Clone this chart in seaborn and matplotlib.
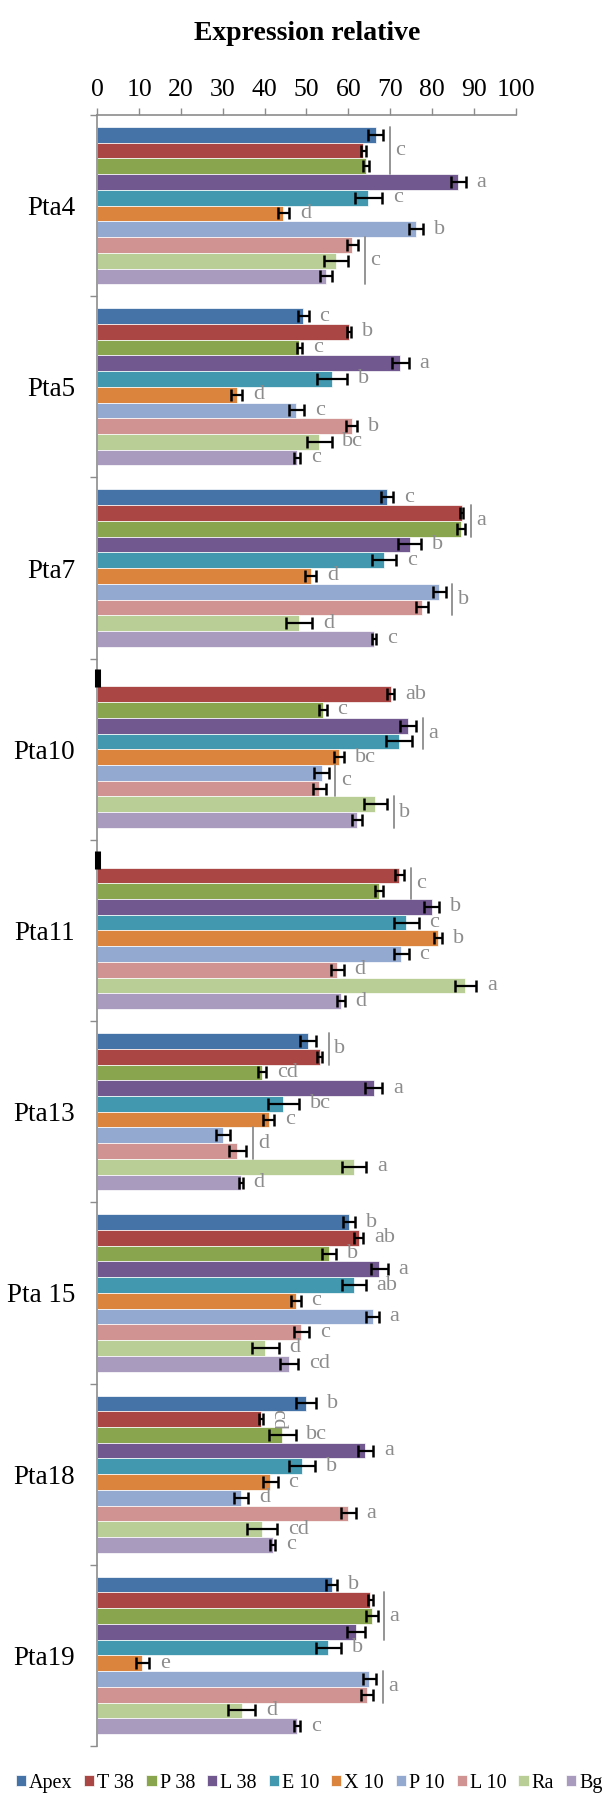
import numpy as np
import pandas as pd
import seaborn as sns
import matplotlib.pyplot as plt
from matplotlib.ticker import FixedLocator, MultipleLocator

# ---------------------------------------------------------
# data
# ---------------------------------------------------------
genes = ['Pta4', 'Pta5', 'Pta7', 'Pta10', 'Pta11', 'Pta13', 'Pta 15', 'Pta18', 'Pta19']
series = ['Apex', 'T 38', 'P 38', 'L 38', 'E 10', 'X 10', 'P 10', 'L 10', 'Ra', 'Bg']

# mean relative expression, one list per gene, series in the order above
pta4 = [66.6, 63.6, 64.2, 86.3, 64.8, 44.5, 76.2, 61.0, 57.1, 54.6]
pta5 = [49.2, 60.2, 48.3, 72.4, 56.2, 33.3, 47.6, 60.8, 53.1, 47.8]
pta7 = [69.3, 87.1, 86.9, 74.7, 68.5, 51.0, 81.8, 77.7, 48.3, 66.2]
pta10 = [0.0, 70.1, 53.9, 74.3, 72.1, 57.8, 53.6, 53.1, 66.5, 62.0]
pta11 = [0.0, 72.2, 67.4, 79.9, 73.9, 81.5, 72.7, 57.4, 88.0, 58.2]
pta13 = [50.3, 53.2, 39.3, 66.1, 44.5, 41.0, 30.0, 33.5, 61.4, 34.3]
pta15 = [60.2, 62.5, 55.4, 67.4, 61.4, 47.4, 65.8, 48.8, 40.2, 45.8]
pta18 = [49.8, 39.1, 44.2, 64.1, 49.0, 41.4, 34.3, 60.0, 39.4, 41.9]
pta19 = [56.0, 65.3, 65.6, 61.8, 55.2, 10.8, 65.0, 64.5, 34.5, 47.8]

# standard error bars
err4 = [1.8, 0.6, 0.7, 1.8, 3.3, 1.4, 1.7, 1.4, 2.8, 1.4]
err5 = [1.3, 0.5, 0.6, 2.0, 3.6, 1.4, 1.8, 1.3, 2.9, 0.7]
err7 = [1.5, 0.4, 0.9, 2.7, 2.9, 1.4, 1.5, 1.4, 3.1, 0.5]
err10 = [0.3, 0.9, 0.9, 1.9, 3.1, 1.1, 1.7, 1.6, 2.8, 1.2]
err11 = [0.3, 1.1, 1.0, 1.8, 2.9, 1.0, 1.7, 1.5, 2.6, 0.9]
err13 = [1.9, 0.6, 1.0, 2.0, 3.7, 1.3, 1.7, 2.1, 2.9, 0.5]
err15 = [1.5, 1.1, 1.6, 2.0, 2.8, 1.2, 1.5, 1.8, 3.2, 2.2]
err18 = [2.4, 0.5, 3.2, 1.8, 3.1, 1.7, 1.7, 1.8, 3.5, 0.7]
err19 = [1.4, 0.5, 1.4, 2.2, 3.0, 1.5, 1.6, 1.5, 3.3, 0.7]

# significance letters ('' = covered by a bracket group)
let4 = ['', '', '', 'a', 'c', 'd', 'b', '', '', '']
let5 = ['c', 'b', 'c', 'a', 'b', 'd', 'c', 'b', 'bc', 'c']
let7 = ['c', '', '', 'b', 'c', 'd', '', '', 'd', 'c']
let10 = ['', 'ab', 'c', '', '', 'bc', '', '', '', '']
let11 = ['', '', '', 'b', 'c', 'b', 'c', 'd', 'a', 'd']
let13 = ['', '', 'cd', 'a', 'bc', 'c', '', '', 'a', 'd']
let15 = ['b', 'ab', 'b', 'a', 'ab', 'c', 'a', 'c', 'd', 'cd']
let18 = ['b', 'cd', 'bc', 'a', 'b', 'c', 'd', 'a', 'cd', 'c']
let19 = ['b', '', '', '', 'b', 'e', '', '', 'd', 'c']

# bracket groups: (first bar, last bar, letter)
grp4 = [(0, 2, 'c'), (7, 9, 'c')]
grp5 = []
grp7 = [(1, 2, 'a'), (6, 7, 'b')]
grp10 = [(3, 4, 'a'), (6, 7, 'c'), (8, 9, 'b')]
grp11 = [(1, 2, 'c')]
grp13 = [(0, 1, 'b'), (6, 7, 'd')]
grp15 = []
grp18 = []
grp19 = [(1, 3, 'a'), (6, 7, 'a')]

values = [pta4, pta5, pta7, pta10, pta11, pta13, pta15, pta18, pta19]
errors = [err4, err5, err7, err10, err11, err13, err15, err18, err19]
letters = [let4, let5, let7, let10, let11, let13, let15, let18, let19]
groups = [grp4, grp5, grp7, grp10, grp11, grp13, grp15, grp18, grp19]

colors = ['#4572A7', '#AA4643', '#89A54E', '#71588F', '#4198AF',
          '#DB843D', '#93A9CF', '#D19392', '#B9CD96', '#A99BBD']

rows = []
for g, vals, errs in zip(genes, values, errors):
    for s, v, e in zip(series, vals, errs):
        rows.append({'gene': g, 'series': s, 'value': v, 'err': e})
df = pd.DataFrame(rows)

# ---------------------------------------------------------
# plot
# ---------------------------------------------------------
sns.set_theme(style='white')
plt.rcParams['font.family'] = ['Liberation Serif', 'DejaVu Serif']
plt.rcParams['text.color'] = 'black'

W, H = 606, 1794
fig = plt.figure(figsize=(W / 100, H / 100), dpi=100)
ax = fig.add_axes([97.3 / W, 1 - 1746 / H, (515.6 - 97.3) / W, (1746 - 115) / H])

sns.barplot(data=df, x='value', y='gene', hue='series', orient='h',
            order=genes, hue_order=series, palette=colors, saturation=1,
            width=0.868, errorbar=None, edgecolor='white', linewidth=0.5,
            ax=ax)

handles, labels = ax.get_legend_handles_labels()
ax.get_legend().remove()
bar_conts = list(ax.containers)

grey = '#8c8c8c'
letter_kw = dict(color=grey, fontsize=16, va='center', ha='left')

# error bars + letters, placed from the drawn patches
for si, cont in enumerate(bar_conts):
    for gi, patch in enumerate(cont.patches):
        yc = patch.get_y() + patch.get_height() / 2
        v = values[gi][si]
        e = errors[gi][si]
        if v == 0:
            # missing sample: Excel leaves a solid black stub at zero
            ax.errorbar(v, yc, xerr=e, fmt='none', ecolor='black',
                        elinewidth=4, capsize=6.8, capthick=2.2, zorder=4,
                        clip_on=False)
        else:
            ax.errorbar(v, yc, xerr=e, fmt='none', ecolor='black',
                        elinewidth=1.6, capsize=4.3, capthick=1.8, zorder=4)
        lab = letters[gi][si]
        if lab:
            rot = 270 if (genes[gi] == 'Pta18' and si == 1) else 0
            ax.text(v + e + (1.3 if rot else 2.6), yc, lab, rotation=rot,
                    **letter_kw)

for gi, grp in enumerate(groups):
    for (a, b, lab) in grp:
        p_top = bar_conts[a].patches[gi]
        p_bot = bar_conts[b].patches[gi]
        xline = max(values[gi][k] + errors[gi][k] for k in range(a, b + 1)) + 1.6
        y0 = p_top.get_y()
        y1 = p_bot.get_y() + p_bot.get_height()
        ax.plot([xline, xline], [y0, y1], color=grey, lw=1.3, zorder=3)
        ax.text(xline + 1.3, (y0 + y1) / 2, lab, **letter_kw)

# axes styling
ax.set_xlim(0, 100)
ax.set_ylim(len(genes) - 0.5, -0.5)
ax.xaxis.set_major_locator(MultipleLocator(10))
ax.xaxis.tick_top()
ax.tick_params(axis='x', which='major', direction='out', length=5, width=1,
               color=grey, labelcolor='black', labelsize=18.5, pad=5,
               top=True, bottom=False, labeltop=True, labelbottom=False)
ax.yaxis.set_minor_locator(FixedLocator(np.arange(-0.5, len(genes), 1.0)))
ax.tick_params(axis='y', which='major', length=0, labelsize=19.5, pad=16,
               labelcolor='black')
ax.tick_params(axis='y', which='minor', length=5, width=1, color=grey,
               direction='out', left=True)
ax.set_xlabel('')
ax.set_ylabel('')
for side in ['right', 'bottom']:
    ax.spines[side].set_visible(False)
for side in ['top', 'left']:
    ax.spines[side].set_color(grey)
    ax.spines[side].set_linewidth(1.2)

fig.text(0.507, 1 - 33 / H, 'Expression relative', ha='center', va='center',
         fontsize=20, fontweight='bold', color='black')

fig.legend(handles, labels, loc='center', bbox_to_anchor=(0.51, 1 - 1783 / H),
           ncol=10, frameon=False, fontsize=14.5, handlelength=0.5,
           handleheight=0.5, handletextpad=0.15, columnspacing=0.6,
           borderaxespad=0, borderpad=0)

fig.savefig('out.png', dpi=100)
